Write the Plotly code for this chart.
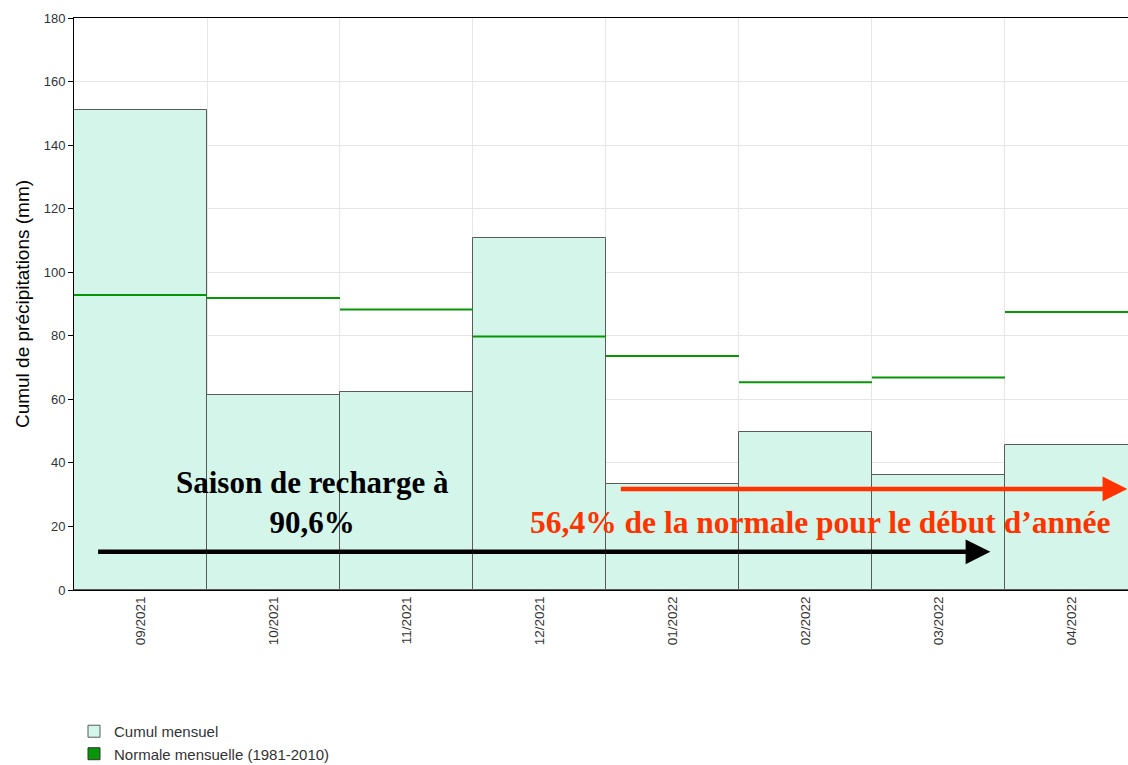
import plotly.graph_objects as go

# monthly values (mm)
mois = ["09/2021", "10/2021", "11/2021", "12/2021", "01/2022", "02/2022", "03/2022", "04/2022"]
cumul = [151.0, 61.4, 62.3, 110.9, 33.4, 49.7, 36.2, 45.6]
normale = [92.8, 91.9, 88.3, 79.8, 73.6, 65.4, 66.9, 87.5]

pos = list(range(len(mois)))

# horizontal segment per month for the normal
seg_x, seg_y = [], []
for i, v in zip(pos, normale):
    seg_x += [i - 0.5, i + 0.5, None]
    seg_y += [v, v, None]

fig = go.Figure()

fig.add_trace(
    go.Bar(
        x=pos,
        y=cumul,
        width=1,
        name="Cumul mensuel",
        marker=dict(color="#d4f5ea", line=dict(color="#5a5a5a", width=1)),
    )
)
fig.add_trace(
    go.Scatter(
        x=seg_x,
        y=seg_y,
        mode="lines",
        line=dict(color="#079607", width=2),
        showlegend=False,
        hoverinfo="skip",
    )
)
# legend entry only (square swatch)
fig.add_trace(
    go.Bar(
        x=[None],
        y=[None],
        name="Normale mensuelle (1981-2010)",
        marker=dict(color="#079607", line=dict(color="#333333", width=1)),
    )
)

serif = "Liberation Serif, Times New Roman, serif"

# black arrow + text
fig.add_annotation(
    x=6.39, y=12, ax=-0.33, ay=12,
    xref="x", yref="y", axref="x", ayref="y",
    showarrow=True, arrowhead=2, arrowsize=1.1, arrowwidth=4.5, arrowcolor="black",
    text="",
)
fig.add_annotation(
    x=1.29, y=27.4, xref="x", yref="y", showarrow=False,
    text="<b>Saison de recharge à<br>90,6%</b>",
    font=dict(family=serif, size=31, color="black"),
)

# red arrow + text
fig.add_annotation(
    x=7.42, y=31.8, ax=3.6, ay=31.8,
    xref="x", yref="y", axref="x", ayref="y",
    showarrow=True, arrowhead=2, arrowsize=1.1, arrowwidth=4.5, arrowcolor="#ff3300",
    text="",
)
fig.add_annotation(
    x=5.11, y=21.4, xref="x", yref="y", showarrow=False,
    text="<b>56,4% de la normale pour le début d’année</b>",
    font=dict(family=serif, size=31.5, color="#ff3300"),
)

fig.update_layout(
    width=1128,
    height=765,
    margin=dict(l=74, r=0, t=18, b=175, autoexpand=False),
    plot_bgcolor="white",
    paper_bgcolor="white",
    font=dict(family="Liberation Sans, Arial, sans-serif", color="#333333"),
    barmode="overlay",
    bargap=0,
    showlegend=True,
    legend=dict(
        x=0, y=-0.2185, xanchor="left", yanchor="top",
        font=dict(size=15, color="#333333"),
        tracegroupgap=0,
        itemwidth=30,
    ),
)

fig.update_xaxes(
    range=[-0.5, 7.425],
    tickmode="array",
    tickvals=pos,
    ticktext=mois,
    tickangle=-90,
    tickfont=dict(size=13.5, color="#333333"),
    showgrid=False,
    minor=dict(tickmode="linear", tick0=0.5, dtick=1, showgrid=True, gridcolor="#e6e6e6", gridwidth=1),
    showline=True,
    linecolor="black",
    linewidth=1,
    mirror=True,
    ticks="",
    zeroline=False,
)
fig.update_yaxes(
    range=[0, 180],
    dtick=20,
    showgrid=True,
    gridcolor="#e6e6e6",
    gridwidth=1,
    showline=True,
    linecolor="black",
    linewidth=1,
    ticks="outside",
    ticklen=5,
    tickcolor="black",
    tickfont=dict(size=13, color="#333333"),
    zeroline=False,
    title=dict(text="Cumul de précipitations (mm)", font=dict(size=19, color="black"), standoff=9),
)

# page body has an 8px default margin; drop it so the figure fills the window
fig.write_html(
    "out.html",
    config={"displayModeBar": False},
    post_script="document.body.style.margin = '0px';",
)
